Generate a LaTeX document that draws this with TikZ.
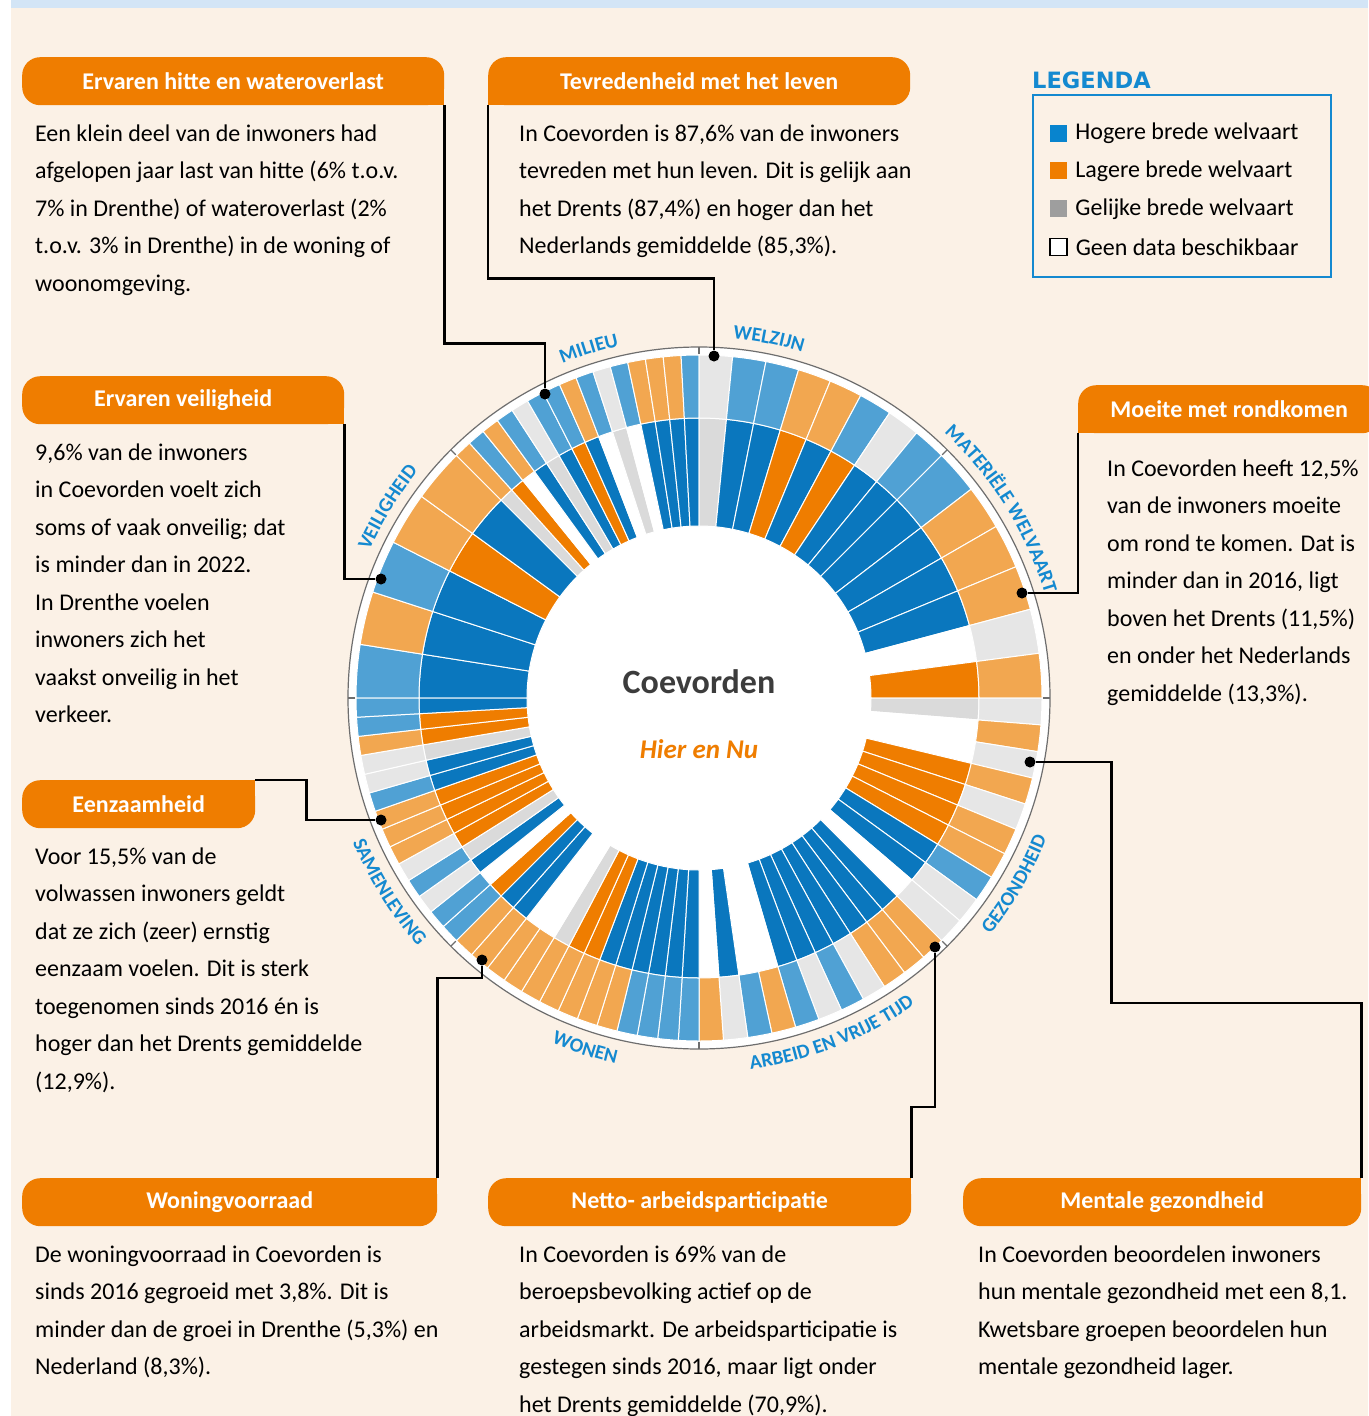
\documentclass[tikz,border=0pt]{standalone}
\usepackage{fontspec}
\setmainfont{Carlito}
\newfontfamily\legfont{DejaVu Sans}
\usetikzlibrary{positioning, decorations.text}

\definecolor{cream}{RGB}{251,241,230}
\definecolor{topband}{RGB}{211,229,246}
\definecolor{cB}{RGB}{10,119,190}
\definecolor{cO}{RGB}{239,125,0}
\definecolor{cG}{RGB}{218,218,218}
\definecolor{cLB}{RGB}{80,161,212}
\definecolor{cLO}{RGB}{242,167,80}
\definecolor{cLG}{RGB}{230,230,230}
\definecolor{cW}{RGB}{255,255,255}
\definecolor{lbl}{RGB}{20,137,208}
\definecolor{legB}{RGB}{8,132,206}
\definecolor{legG}{RGB}{158,158,158}
\definecolor{ringgray}{RGB}{110,110,110}
\definecolor{darktext}{RGB}{60,60,60}

\newcommand\lblfont{\fontsize{20}{20}\selectfont\bfseries\color{lbl}}

% one domain of the ring: start angle, slice width, inner/outer colours (clockwise)
\newcommand\domainring[3]{%
  \foreach \ci/\co [count=\k from 0] in {#3} {
    \pgfmathsetmacro\sa{#1-\k*#2}
    \pgfmathsetmacro\ea{\sa-#2}
    \filldraw[bar, fill=\ci] (\sa:172) arc[start angle=\sa, end angle=\ea, radius=172]
      -- (\ea:280) arc[start angle=\ea, end angle=\sa, radius=280] -- cycle;
    \filldraw[bar, fill=\co] (\sa:280) arc[start angle=\sa, end angle=\ea, radius=280]
      -- (\ea:343) arc[start angle=\ea, end angle=\sa, radius=343] -- cycle;
  }}

\begin{document}
\begin{tikzpicture}[
        x=1pt, y=1pt,
        hdr/.style={anchor=north west, fill=cO, text=white, rounded corners=18pt, inner sep=0pt, minimum height=48pt, font=\fontsize{24}{24}\selectfont\bfseries},
        body/.style={align=left, inner sep=0pt, text=black, font=\fontsize{24}{37.5}\selectfont},
        bar/.style={draw=white, line width=1pt},
        dot/.style={circle, fill=black, inner sep=0pt, minimum size=11pt},
        link/.style={draw=black, line width=2.4pt},
        legsq/.style={rectangle, inner sep=0pt, minimum size=17pt},
        legtxt/.style={inner sep=0pt, font=\fontsize{24}{24}\selectfont}
    ]
        \useasboundingbox (0,0) rectangle (1368,-1416);
        \fill[white] (0,0) rectangle (1368,-1416);
        \fill[cream] (11,0) rectangle (1368,-1416);
        \fill[topband] (11,0) rectangle (1368,-8);

        % Legend
        \node[anchor=west, inner sep=0pt, text=lbl, font=\legfont\fontsize{22.5}{22.5}\selectfont\bfseries] (legtitle) at (1032,-80) {LEGENDA};
        \draw[lbl, line width=2.2pt] (1033,-95) rectangle (1331,-277);
        \node[legsq, fill=legB] (sq1) at (1058.5,-133) {};
        \node[legsq, fill=cO, below=20.5pt of sq1] (sq2) {};
        \node[legsq, fill=legG, below=20.5pt of sq2] (sq3) {};
        \node[legsq, fill=white, draw=black, line width=1.2pt, below=20.5pt of sq3] (sq4) {};
        \node[legtxt, right=8pt of sq1] {Hogere brede welvaart};
        \node[legtxt, right=8pt of sq2] {Lagere brede welvaart};
        \node[legtxt, right=8pt of sq3] {Gelijke brede welvaart};
        \node[legtxt, right=8pt of sq4] {Geen data beschikbaar};

        % Ring
        \begin{scope}[shift={(699,-698)}]
            \filldraw[fill=white, draw=ringgray, line width=1.2pt] (0,0) circle[radius=351];
            \domainring{180}{9}{cB/cLB, cB/cLO, cB/cLB, cO/cLO, cB/cLO}
            \domainring{135}{3}{cG/cLO, cO/cLB, cW/cLO, cB/cLB, cG/cLG, cB/cLB, cO/cLB, cB/cLO, cW/cLB, cG/cLG, cW/cLB, cB/cLO, cB/cLO, cB/cLO, cB/cLB}
            \domainring{90}{5.625}{cG/cLG, cB/cLB, cB/cLB, cO/cLO, cB/cLO, cO/cLB, cB/cLG, cB/cLB}
            \domainring{45}{7.5}{cB/cLB, cB/cLO, cB/cLO, cB/cLO, cW/cLG, cO/cLO}
            \domainring{0}{4.5}{cG/cLG, cW/cLO, cW/cLG, cO/cLO, cO/cLG, cO/cLO, cO/cLO, cB/cLB, cB/cLG, cW/cLG}
            \domainring{-45}{4.0909}{cB/cLO, cB/cLO, cB/cLO, cB/cLG, cB/cLB, cB/cLG, cB/cLB, cW/cLO, cW/cLB, cB/cLG, cW/cLO}
            \domainring{-90}{3.4615}{cB/cLB, cB/cLB, cB/cLB, cB/cLB, cB/cLO, cB/cLO, cO/cLO, cO/cLO, cG/cLO, cW/cLO, cW/cLO, cB/cLO, cB/cLO}
            \domainring{-135}{3.2143}{cO/cLB, cW/cLB, cB/cLG, cG/cLB, cO/cLG, cO/cLO, cO/cLO, cO/cLO, cB/cLB, cB/cLG, cG/cLG, cO/cLO, cO/cLB, cB/cLB}
            \foreach \t in {0,45,...,315}
                \draw[ringgray, line width=1.2pt] (\t:344) -- (\t:351);

            % Domain names
            \path[decorate, decoration={text along path, text align=center, text={|\lblfont|MILIEU}}] (127:361) arc[start angle=127, end angle=88, radius=361];
            \path[decorate, decoration={text along path, text align=center, text={|\lblfont|WELZIJN}}] (101:361) arc[start angle=101, end angle=57, radius=361];
            \path[decorate, decoration={text along path, text align=center, text={|\lblfont|MATERIËLE WELVAART}}] (64:361) arc[start angle=64, end angle=0, radius=361];
            \path[decorate, decoration={text along path, text align=center, text={|\lblfont|VEILIGHEID}}] (178:361) arc[start angle=178, end angle=119, radius=361];
            \path[decorate, decoration={text along path, text align=center, text={|\lblfont|GEZONDHEID}}] (-58:375) arc[start angle=-58, end angle=-3, radius=375];
            \path[decorate, decoration={text along path, text align=center, text={|\lblfont|ARBEID EN VRIJE TIJD}}] (-103:375) arc[start angle=-103, end angle=-34, radius=375];
            \path[decorate, decoration={text along path, text align=center, text={|\lblfont|WONEN}}] (-127:375) arc[start angle=-127, end angle=-89, radius=375];
            \path[decorate, decoration={text along path, text align=center, text={|\lblfont|SAMENLEVING}}] (-178:375) arc[start angle=-178, end angle=-118, radius=375];

            \node[text=darktext, font=\fontsize{34}{34}\selectfont\bfseries] (town) at (0,16) {Coevorden};
            \node[text=cO, font=\fontsize{27}{27}\selectfont\bfseries\itshape] (tag) at (0,-51) {Hier en Nu};
        \end{scope}

        % Headers
        \node[hdr, minimum width=422pt] (hdr1) at (22,-57) {Ervaren hitte en wateroverlast};
        \node[hdr, minimum width=422pt] (hdr2) at (488,-57) {Tevredenheid met het leven};
        \node[hdr, minimum width=322pt] (hdr3) at (22,-376) {Ervaren veiligheid};
        \node[hdr, minimum width=302pt] (hdr4) at (1078,-385) {Moeite met rondkomen};
        \node[hdr, minimum width=233pt] (hdr5) at (22,-780) {Eenzaamheid};
        \node[hdr, minimum width=415pt] (hdr6) at (22,-1178) {Woningvoorraad};
        \node[hdr, minimum width=423pt] (hdr7) at (488,-1178) {Netto- arbeidsparticipatie};
        \node[hdr, minimum width=398pt] (hdr8) at (963,-1178) {Mentale gezondheid};
        \fill[cO] (hdr1.south east) rectangle ++(-20,20);
        \fill[cO] (hdr2.south west) rectangle ++(20,20);
        \fill[cO] (hdr3.south east) rectangle ++(-20,20);
        \fill[cO] (hdr4.south west) rectangle ++(20,20);
        \fill[cO] (hdr5.north east) rectangle ++(-20,-20);
        \fill[cO] (hdr6.north east) rectangle ++(-20,-20);
        \fill[cO] (hdr7.north east) rectangle ++(-20,-20);
        \fill[cO] (hdr8.north east) rectangle ++(-20,-20);

        % Texts
        \node[body, below right=19pt and 13pt of hdr1.south west] (txt1) {Een klein deel van de inwoners had\\afgelopen jaar last van hitte (6\% t.o.v.\\7\% in Drenthe) of wateroverlast (2\%\\t.o.v. 3\% in Drenthe) in de woning of\\woonomgeving.};
        \node[body, below right=19pt and 31pt of hdr2.south west] (txt2) {In Coevorden is 87,6\% van de inwoners\\tevreden met hun leven. Dit is gelijk aan\\het Drents (87,4\%) en hoger dan het\\Nederlands gemiddelde (85,3\%).};
        \node[body, below right=19pt and 13pt of hdr3.south west] (txt3) {9,6\% van de inwoners\\in Coevorden voelt zich\\soms of vaak onveilig; dat\\is minder dan in 2022.\\In Drenthe voelen\\inwoners zich het\\vaakst onveilig in het\\verkeer.};
        \node[body, below right=26pt and 29pt of hdr4.south west] (txt4) {In Coevorden heeft 12,5\%\\van de inwoners moeite\\om rond te komen. Dat is\\minder dan in 2016, ligt\\boven het Drents (11,5\%)\\en onder het Nederlands\\gemiddelde (13,3\%).};
        \node[body, below right=19pt and 13pt of hdr5.south west] (txt5) {Voor 15,5\% van de\\volwassen inwoners geldt\\dat ze zich (zeer) ernstig\\eenzaam voelen. Dit is sterk\\toegenomen sinds 2016 én is\\hoger dan het Drents gemiddelde\\(12,9\%).};
        \node[body, below right=19pt and 13pt of hdr6.south west] (txt6) {De woningvoorraad in Coevorden is\\sinds 2016 gegroeid met 3,8\%. Dit is\\minder dan de groei in Drenthe (5,3\%) en\\Nederland (8,3\%).};
        \node[body, below right=19pt and 31pt of hdr7.south west] (txt7) {In Coevorden is 69\% van de\\beroepsbevolking actief op de\\arbeidsmarkt. De arbeidsparticipatie is\\gestegen sinds 2016, maar ligt onder\\het Drents gemiddelde (70,9\%).};
        \node[body, below right=19pt and 15pt of hdr8.south west] (txt8) {In Coevorden beoordelen inwoners\\hun mentale gezondheid met een 8,1.\\Kwetsbare groepen beoordelen hun\\mentale gezondheid lager.};

        % Dots
        \node[dot] (d1) at (545,-394) {};
        \node[dot] (d2) at (714,-356) {};
        \node[dot] (d3) at (381,-579) {};
        \node[dot] (d4) at (1022,-593) {};
        \node[dot] (d5) at (381,-820) {};
        \node[dot] (d6) at (482,-960) {};
        \node[dot] (d7) at (935,-947) {};
        \node[dot] (d8) at (1030,-762) {};

        % Connectors
        \draw[link] (hdr1.south east) -- ++(0,-238) -| (d1);
        \draw[link] (hdr2.south west) -- ++(0,-173) -| (d2);
        \draw[link] (hdr3.south east) |- (d3);
        \draw[link] (hdr4.south west) |- (d4);
        \draw[link] (hdr5.north east) -- ++(51,0) |- (d5);
        \draw[link] (hdr6.north east) -- ++(0,200) -| (d6);
        \draw[link] (hdr7.north east) -- ++(0,71) -| (d7);
        \draw[link] (hdr8.north east) -- ++(0,175) -- ++(-250,0) |- (d8);
    \end{tikzpicture}
\end{document}
